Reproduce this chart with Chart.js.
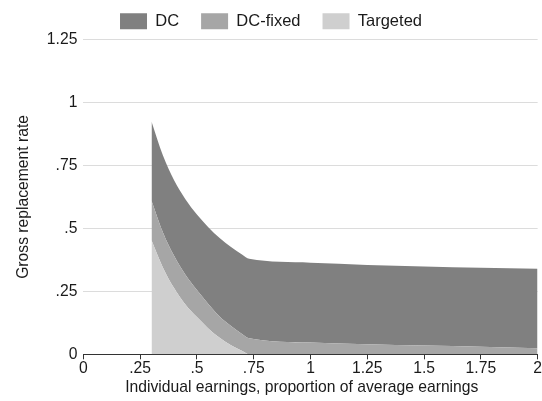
<!DOCTYPE html>
<html>
<head>
<meta charset="utf-8">
<script src="https://cdn.jsdelivr.net/npm/chart.js@4/dist/chart.umd.min.js"></script>
<style>
  html, body { margin: 0; padding: 0; background: #ffffff; }
  #wrap { width: 542px; height: 401px; }
</style>
</head>
<body>
<div id="wrap"><canvas id="chart" width="542" height="401"></canvas></div>
<script>
// Individual earnings as a proportion of average earnings
const earnings = [0.3, 0.35, 0.4, 0.45, 0.5, 0.55, 0.6, 0.65, 0.7, 0.73, 1, 1.25, 1.5, 1.75, 2];

// Gross replacement rate by component (stacked: Targeted, DC-fixed, DC)
const targeted = [0.453, 0.345, 0.262, 0.197, 0.148, 0.103, 0.066, 0.036, 0.013, 0, 0, 0, 0, 0, 0];
const dcFixed  = [0.157, 0.140, 0.128, 0.118, 0.107, 0.097, 0.084, 0.076, 0.067, 0.064, 0.047, 0.040, 0.035, 0.030, 0.024];
const dc       = [0.314, 0.305, 0.300, 0.300, 0.300, 0.305, 0.312, 0.314, 0.315, 0.315, 0.317, 0.315, 0.314, 0.314, 0.316];

const xTicks = [0, 0.25, 0.5, 0.75, 1, 1.25, 1.5, 1.75, 2];
const yTicks = [0, 0.25, 0.5, 0.75, 1, 1.25];

// Labels without the leading zero of decimals
function fmt(v) {
  const r = Math.round(v * 100) / 100;
  if (r === 0) return '0';
  let s = String(r);
  if (s.startsWith('0.')) s = s.slice(1);
  return s;
}

function pts(values) {
  return earnings.map((x, i) => ({ x: x, y: values[i] }));
}

const FAMILY = '"Liberation Sans", Arial, sans-serif';
const FONT = { family: FAMILY, size: 15.7 };
const LEGEND_FONT = { family: FAMILY, size: 16.5 };
const INK = '#1a1a1a';
const NBSP = '\u00a0';
Chart.defaults.font.family = FAMILY;
Chart.defaults.font.size = FONT.size;
Chart.defaults.color = INK;

new Chart(document.getElementById('chart'), {
  type: 'line',
  data: {
    datasets: [
      { label: 'Targeted', data: pts(targeted), backgroundColor: '#cfcfcf', borderColor: '#cfcfcf', fill: 'origin' },
      { label: 'DC-fixed', data: pts(dcFixed),  backgroundColor: '#a6a6a6', borderColor: '#a6a6a6', fill: '-1' },
      { label: 'DC',       data: pts(dc),       backgroundColor: '#808080', borderColor: '#808080', fill: '-1' }
    ]
  },
  options: {
    responsive: false,
    animation: false,
    layout: { padding: { left: 4, right: 4, top: -9, bottom: 4 } },
    elements: {
      point: { radius: 0 },
      line: { borderWidth: 0, cubicInterpolationMode: 'monotone' }
    },
    plugins: {
      legend: {
        position: 'top',
        reverse: true,
        labels: {
          boxWidth: 27,
          boxHeight: 16,
          padding: 22,
          font: LEGEND_FONT,
          color: INK
        }
      },
      tooltip: { enabled: false }
    },
    scales: {
      x: {
        type: 'linear',
        min: 0,
        max: 2,
        afterBuildTicks: (axis) => { axis.ticks = xTicks.map(v => ({ value: v })); },
        ticks: { callback: (v) => fmt(v), font: FONT, color: INK, padding: 0, maxRotation: 0 },
        grid: { drawOnChartArea: false, drawTicks: true, tickLength: 5, color: '#333333' },
        border: { display: true, color: '#333333', width: 1 },
        title: {
          display: true,
          // trailing spaces nudge the centred title a little to the left
          text: 'Individual earnings, proportion of average earnings' + NBSP.repeat(4),
          font: FONT, color: INK, padding: { top: 0, bottom: 0 }
        }
      },
      y: {
        type: 'linear',
        stacked: true,
        min: 0,
        max: 1.25,
        afterBuildTicks: (axis) => { axis.ticks = yTicks.map(v => ({ value: v })); },
        ticks: { callback: (v) => fmt(v), font: FONT, color: INK, padding: 6 },
        grid: { drawTicks: false, color: '#dcdcdc', lineWidth: 1 },
        border: { display: false },
        title: { display: true, text: 'Gross replacement rate', font: FONT, color: INK, padding: { top: 10, bottom: 8 } }
      }
    }
  }
});
</script>
</body>
</html>
